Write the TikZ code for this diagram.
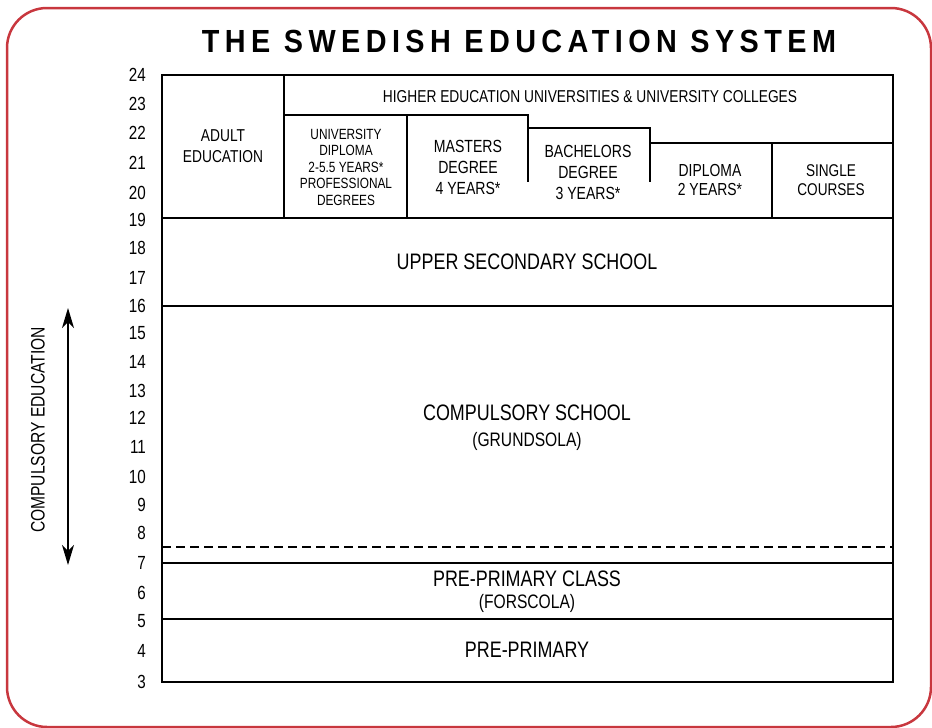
\documentclass[tikz,border=0pt]{standalone}
\usepackage{fontspec}
\setmainfont{Liberation Sans}
\newfontfamily\nf[FakeStretch=0.8]{Liberation Sans}
\newfontfamily\tf[FakeStretch=0.9,LetterSpace=17]{Liberation Sans}
\usetikzlibrary{arrows.meta}
\definecolor{frame}{RGB}{200,55,62}
\newcommand{\fs}[2]{\nf\fontsize{#1}{#2}\selectfont}
\begin{document}
\begin{tikzpicture}[x=1pt,y=-1pt,
  box/.style={line width=2.4pt,line join=miter},
  age/.style={anchor=east,inner sep=0pt,font=\fs{19}{19}},
  big/.style={align=center,inner sep=0pt,font=\fs{22.4}{24}},
  par/.style={align=center,inner sep=0pt,font=\fs{19.5}{20}},
  mid/.style={align=center,inner sep=0pt,font=\fs{17.2}{21}},
  sml/.style={align=center,inner sep=0pt,font=\fs{14.8}{16.5}},
  lbl/.style={align=center,inner sep=0pt,font=\fs{17.6}{21}},
  arr/.style={line width=1.3pt,{Stealth[length=20pt,width=12pt,inset=6pt]}-{Stealth[length=20pt,width=12pt,inset=6pt]}}]
\useasboundingbox (0,0) rectangle (932,728);
\draw[frame,line width=2.5pt,rounded corners=40pt] (7,8) rectangle (931,727);
\node[inner sep=0pt,font=\tf\bfseries\fontsize{32}{32}\selectfont] (title) at (519,41) {THE SWEDISH EDUCATION SYSTEM};
% outer box and rows
\draw[box] (162,75) rectangle (893,682);
\draw[box] (162,218) -- (893,218);
\draw[box] (162,306) -- (893,306);
\draw[box] (162,563) -- (893,563);
\draw[box] (162,619) -- (893,619);
\draw[line width=2.2pt,dash pattern=on 9pt off 5pt] (162,547) -- (893,547);
% higher education
\draw[box] (284,75) -- (284,218);
\draw[box] (284,115) -- (528,115) -- (528,182);
\draw[box] (407,115) -- (407,218);
\draw[box] (528,128) -- (650,128) -- (650,182);
\draw[box] (650,143) -- (893,143);
\draw[box] (772,143) -- (772,218);
% texts
\node[mid] (adult) at (223,146) {ADULT\\EDUCATION};
\node[mid] (higher) at (590,97) {HIGHER EDUCATION UNIVERSITIES \& UNIVERSITY COLLEGES};
\node[sml] (unidip) at (346,167) {UNIVERSITY\\DIPLOMA\\2-5.5 YEARS*\\PROFESSIONAL\\DEGREES};
\node[lbl] (masters) at (468,167) {MASTERS\\DEGREE\\4 YEARS*};
\node[lbl] (bach) at (588,172) {BACHELORS\\DEGREE\\3 YEARS*};
\node[lbl,font=\fs{17.4}{19.5}] (dip) at (710,180) {DIPLOMA\\2 YEARS*};
\node[lbl,font=\fs{17}{19.5}] (single) at (831,180) {SINGLE\\COURSES};
\node[big] (upper) at (527,262) {UPPER SECONDARY SCHOOL};
\node[big] (comp) at (527,413) {COMPULSORY SCHOOL};
\node[par] (grund) at (527,441) {(GRUNDSOLA)};
\node[big] (ppc) at (527,579) {PRE-PRIMARY CLASS};
\node[par] (fors) at (527,603) {(FORSCOLA)};
\node[big] (pp) at (527,650) {PRE-PRIMARY};
% ages
\foreach \a/\y in {24/75,23/104,22/133,21/163,20/193,19/220,18/248,17/278,16/306,15/333,14/362,13/391,12/418,11/447,10/477,9/505,8/533,7/563,6/593,5/621,4/651,3/682}
  \node[age] (age\a) at (146,\y) {\a};
% compulsory education
\node[rotate=90,inner sep=0pt,font=\fs{19.5}{20}] (ce) at (38,430) {COMPULSORY EDUCATION};
\coordinate (ca) at (68,308);
\coordinate (cb) at (68,565);
\draw[arr] (ca) -- (cb);
\end{tikzpicture}
\end{document}
